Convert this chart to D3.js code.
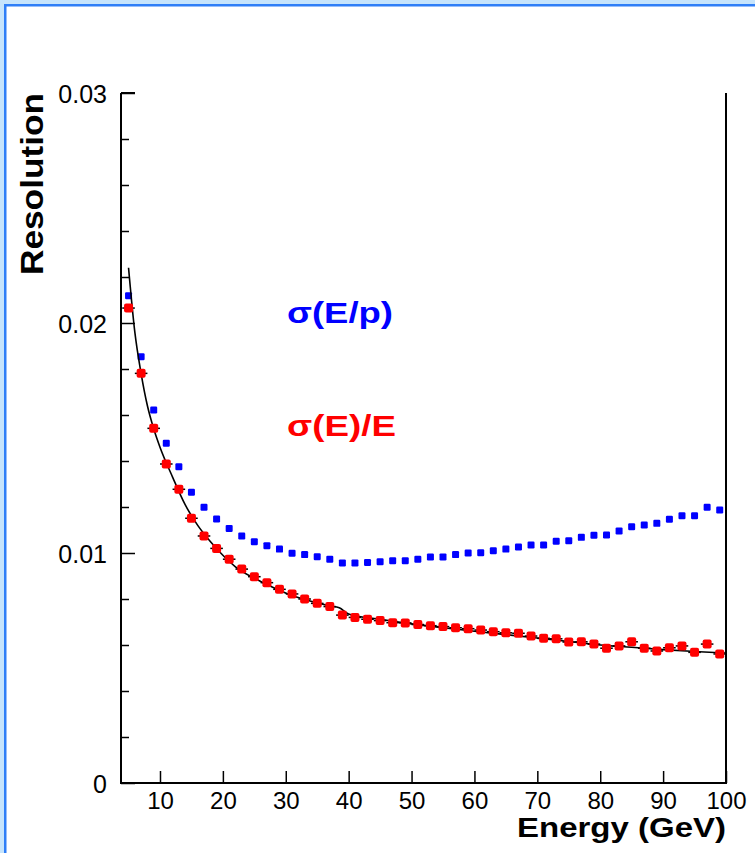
<!DOCTYPE html>
<html>
<head>
<meta charset="utf-8">
<script src="https://cdn.jsdelivr.net/npm/d3@7"></script>
<style>
  html, body { margin: 0; padding: 0; background: #fff; }
  svg { display: block; }
</style>
</head>
<body>
<svg id="chart" width="755" height="853"></svg>
<script>
// beam energies (GeV)
const energy = [5, 7, 9, 11, 13, 15, 17, 19, 21, 23, 25, 27, 29, 31, 33, 35, 37, 39, 41, 43,
  45, 47, 49, 51, 53, 55, 57, 59, 61, 63, 65, 67, 69, 71, 73, 75, 77, 79, 81, 83,
  85, 87, 89, 91, 93, 95, 97, 99];
// sigma(E/p)
const sigmaEp = [0.02119, 0.01853, 0.01622, 0.01477, 0.01375, 0.01264, 0.01199, 0.01148, 0.01107, 0.01074,
  0.01049, 0.01032, 0.01017, 0.00999, 0.00993, 0.00984, 0.00973, 0.00957, 0.00957, 0.00959,
  0.00962, 0.00966, 0.00966, 0.00973, 0.00983, 0.00983, 0.00993, 0.01000, 0.01001, 0.01010,
  0.01017, 0.01026, 0.01035, 0.01035, 0.01051, 0.01053, 0.01068, 0.01077, 0.01078, 0.01096,
  0.01114, 0.01122, 0.01129, 0.01147, 0.01162, 0.01162, 0.01199, 0.01187];
// sigma(E)/E
const sigmaEE = [0.02065, 0.01781, 0.01542, 0.01387, 0.01277, 0.01151, 0.01074, 0.01020, 0.00973, 0.00930,
  0.00897, 0.00871, 0.00842, 0.00822, 0.00800, 0.00781, 0.00767, 0.00730, 0.00720, 0.00712,
  0.00706, 0.00697, 0.00696, 0.00689, 0.00684, 0.00680, 0.00675, 0.00671, 0.00665, 0.00658,
  0.00653, 0.00651, 0.00639, 0.00629, 0.00627, 0.00613, 0.00614, 0.00604, 0.00586, 0.00596,
  0.00614, 0.00586, 0.00574, 0.00588, 0.00596, 0.00568, 0.00604, 0.00561];
// fitted curve
const fitE = [5, 6, 7, 8, 9, 10, 12, 14, 16, 18, 20, 22, 25, 28, 31, 34, 37, 38.5, 40,
  45, 50, 55, 60, 65, 70, 75, 80, 85, 90, 95, 100];
const fitVal = [0.0224, 0.0196, 0.0178, 0.0164, 0.0154, 0.0146, 0.0133, 0.0121, 0.0112, 0.0105,
  0.0099, 0.0094, 0.0089, 0.0085, 0.00815, 0.00790, 0.00770, 0.00762, 0.00735,
  0.00712, 0.00692, 0.00675, 0.00660, 0.00645, 0.00630, 0.00615, 0.00600, 0.00590, 0.00580,
  0.00572, 0.00565];
const xTicks = [10, 20, 30, 40, 50, 60, 70, 80, 90, 100];
const yTicks = [0, 0.01, 0.02, 0.03];
const yMinorTicks = [0.002, 0.004, 0.006, 0.008, 0.012, 0.014, 0.016, 0.018,
  0.022, 0.024, 0.026, 0.028];

var svg = d3.select("#chart");
var width = +svg.attr("width");
var height = +svg.attr("height");

// pad frame
svg.append("rect").attr("x", 0).attr("y", 0).attr("width", width).attr("height", height)
    .style("fill", "#c6e4fc");
svg.append("rect").attr("x", 5.25).attr("y", 5.25).attr("width", width + 20).attr("height", height + 20)
    .style("fill", "#fff").style("stroke", "#2f7ef7").style("stroke-width", 2.5);

const plotLeft = 121, plotRight = 726, plotTop = 93, plotBottom = 783;
const x = d3.scaleLinear().domain([3.8, 100]).range([plotLeft, plotRight]);
const y = d3.scaleLinear().domain([0, 0.03]).range([plotBottom, plotTop]);

const font = "'Liberation Sans', Arial, Helvetica, sans-serif";

// minor y ticks
svg.append("g").attr("transform", `translate(${plotLeft},0)`)
    .call(d3.axisLeft(y).tickValues(yMinorTicks).tickSizeInner(-8).tickSizeOuter(0).tickFormat(""))
    .call(g => g.select(".domain").remove())
    .call(g => g.selectAll("line").style("stroke", "#000").style("stroke-width", 1.5));

// major y ticks
svg.append("g").attr("transform", `translate(${plotLeft},0)`)
    .call(d3.axisLeft(y).tickValues(yTicks).tickSizeInner(-14).tickSizeOuter(0).tickPadding(14)
        .tickFormat(d => d === 0 ? "0" : d.toFixed(2)))
    .call(g => g.select(".domain").remove())
    .call(g => g.selectAll("line").style("stroke", "#000").style("stroke-width", 1.5))
    .call(g => g.selectAll("text").attr("dy", "0.36em")
        .style("font-family", font).style("font-size", "25px").style("fill", "#000"));

// x ticks
svg.append("g").attr("transform", `translate(0,${plotBottom})`)
    .call(d3.axisBottom(x).tickValues(xTicks).tickSizeInner(-12).tickSizeOuter(0).tickPadding(9))
    .call(g => g.select(".domain").remove())
    .call(g => g.selectAll("line").style("stroke", "#000").style("stroke-width", 1.5))
    .call(g => g.selectAll("text")
        .style("font-family", font).style("font-size", "24px").style("fill", "#000"));

// frame (left and bottom axis lines, right edge)
svg.append("path")
    .attr("d", `M${plotLeft},${plotTop}V${plotBottom}H${plotRight}V${plotTop}`)
    .style("fill", "none").style("stroke", "#000").style("stroke-width", 2);
svg.append("line").attr("x1", plotLeft).attr("x2", plotLeft + 14).attr("y1", plotTop).attr("y2", plotTop)
    .style("stroke", "#000").style("stroke-width", 2);

// blue points
svg.selectAll(".ep")
    .data(energy.map((e, i) => ({ e: e, v: sigmaEp[i] })))
    .enter()
    .append("rect")
    .attr("class", "ep")
    .attr("x", d => x(d.e) - 3.5)
    .attr("y", d => y(d.v) - 3.5)
    .attr("width", 7)
    .attr("height", 7)
    .attr("rx", 1.2)
    .style("fill", "#0000ff");

// fit curve
const fitLine = d3.line().x(d => x(d[0])).y(d => y(d[1])).curve(d3.curveMonotoneX);
svg.append("path")
    .datum(fitE.map((e, i) => [e, fitVal[i]]))
    .attr("d", fitLine)
    .style("fill", "none").style("stroke", "#000").style("stroke-width", 1.6);

const redData = energy.map((e, i) => ({ e: e, v: sigmaEE[i] }));
// x error bars
svg.selectAll(".err")
    .data(redData)
    .enter()
    .append("line")
    .attr("class", "err")
    .attr("x1", d => x(d.e - 1))
    .attr("x2", d => x(d.e + 1))
    .attr("y1", d => y(d.v))
    .attr("y2", d => y(d.v))
    .style("stroke", "#000").style("stroke-width", 1.5);

// red points
svg.selectAll(".ee")
    .data(redData)
    .enter()
    .append("rect")
    .attr("class", "ee")
    .attr("x", d => x(d.e) - 4.5)
    .attr("y", d => y(d.v) - 4.5)
    .attr("width", 9)
    .attr("height", 9)
    .attr("rx", 2)
    .style("fill", "#ff0000");

// titles
svg.append("text")
    .attr("transform", "translate(43,275) rotate(-90)")
    .attr("textLength", 182)
    .attr("lengthAdjust", "spacingAndGlyphs")
    .style("font-family", font).style("font-weight", "bold").style("font-size", "31px")
    .text("Resolution");

svg.append("text")
    .attr("x", 726).attr("y", 837)
    .attr("text-anchor", "end")
    .attr("textLength", 209)
    .attr("lengthAdjust", "spacingAndGlyphs")
    .style("font-family", font).style("font-weight", "bold").style("font-size", "28px")
    .text("Energy (GeV)");

// labels
svg.append("text")
    .attr("x", 287).attr("y", 323)
    .attr("textLength", 106)
    .attr("lengthAdjust", "spacingAndGlyphs")
    .style("font-family", font).style("font-weight", "bold").style("font-size", "29px")
    .style("fill", "#0000ff")
    .text("σ(E/p)");

svg.append("text")
    .attr("x", 287).attr("y", 436)
    .attr("textLength", 109)
    .attr("lengthAdjust", "spacingAndGlyphs")
    .style("font-family", font).style("font-weight", "bold").style("font-size", "29px")
    .style("fill", "#ff0000")
    .text("σ(E)/E");
</script>
</body>
</html>
